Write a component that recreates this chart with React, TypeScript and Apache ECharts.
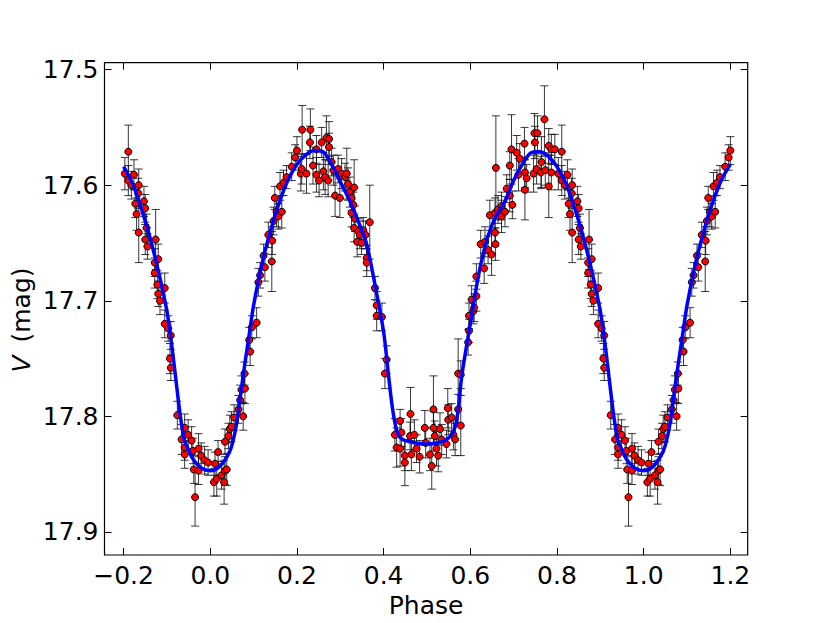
import React, { useEffect, useRef } from "react";
import * as echarts from "echarts";

// Observed phase (0..1), V magnitude, error
const obsPhase = [
  0.0085, 0.011, 0.015, 0.018, 0.026, 0.032, 0.034, 0.034, 0.038, 0.042, 0.045, 0.049, 0.055, 0.065, 0.069, 0.072, 0.076, 0.079, 0.080, 0.090,
  0.092, 0.096, 0.107, 0.111, 0.115, 0.123, 0.126, 0.134, 0.142, 0.143, 0.146, 0.149, 0.153, 0.157, 0.161, 0.165, 0.169, 0.176, 0.188, 0.196,
  0.200, 0.209, 0.211, 0.212, 0.222, 0.230, 0.231, 0.237,
  0.245, 0.245, 0.251, 0.257, 0.261, 0.265, 0.268, 0.272, 0.274, 0.274, 0.280, 0.284, 0.288, 0.295, 0.299, 0.303, 0.311, 0.315, 0.318, 0.322,
  0.326, 0.326, 0.330, 0.332, 0.332, 0.334, 0.339, 0.342, 0.345, 0.349, 0.353, 0.358, 0.361, 0.361, 0.368, 0.380, 0.384, 0.384, 0.396, 0.403,
  0.407, 0.426, 0.430, 0.438, 0.438, 0.441, 0.449, 0.449, 0.461, 0.462, 0.464, 0.471, 0.476, 0.483, 0.495, 0.497, 0.507, 0.511, 0.515, 0.515,
  0.518, 0.522, 0.526, 0.530, 0.534,
  0.545, 0.548, 0.549, 0.557, 0.561, 0.565, 0.572, 0.572, 0.578, 0.578, 0.595, 0.597, 0.597, 0.603, 0.607, 0.609, 0.614, 0.614, 0.624, 0.632,
  0.634, 0.641, 0.645, 0.649, 0.657, 0.657, 0.658, 0.659, 0.664, 0.672, 0.672, 0.680, 0.684, 0.691, 0.691, 0.695, 0.697, 0.707, 0.711, 0.714,
  0.725, 0.726, 0.726, 0.730, 0.746, 0.748, 0.749, 0.753, 0.755, 0.763, 0.764, 0.771, 0.773, 0.781, 0.781, 0.787, 0.787,
  0.795, 0.803, 0.811, 0.811, 0.818, 0.824, 0.827, 0.830, 0.834, 0.835, 0.835, 0.847, 0.850, 0.850, 0.853, 0.855, 0.872, 0.872, 0.874, 0.878,
  0.880, 0.880, 0.884, 0.895, 0.895, 0.903, 0.907, 0.909, 0.909, 0.924, 0.934, 0.941, 0.941, 0.941, 0.949, 0.957, 0.960, 0.962, 0.965, 0.973,
  0.973, 0.979, 0.987, 0.995,
];
const obsMag = [
  17.857, 17.841, 17.854, 17.831, 17.851, 17.857, 17.847, 17.822, 17.846, 17.817, 17.811, 17.809, 17.801, 17.794, 17.786, 17.777, 17.800, 17.763, 17.776, 17.734,
  17.744, 17.723, 17.719, 17.684, 17.678, 17.661, 17.671, 17.643, 17.666, 17.648, 17.631, 17.611, 17.623, 17.627, 17.601, 17.623, 17.598, 17.593, 17.584, 17.576,
  17.570, 17.590, 17.586, 17.552, 17.590, 17.563, 17.552, 17.583,
  17.569, 17.591, 17.596, 17.563, 17.588, 17.593, 17.559, 17.596, 17.560, 17.567, 17.580, 17.587, 17.609, 17.586, 17.611, 17.590, 17.593, 17.590, 17.599, 17.606,
  17.611, 17.624, 17.617, 17.602, 17.637, 17.629, 17.649, 17.640, 17.643, 17.650, 17.639, 17.643, 17.663, 17.667, 17.632, 17.689, 17.704, 17.713, 17.714, 17.763,
  17.751, 17.816, 17.827, 17.804, 17.828, 17.814, 17.834, 17.840, 17.817, 17.798, 17.833, 17.816, 17.828, 17.835, 17.810, 17.823, 17.833, 17.843, 17.794, 17.810,
  17.817, 17.828, 17.834, 17.811, 17.820,
  17.824, 17.793, 17.803, 17.801, 17.816, 17.820, 17.794, 17.763, 17.764, 17.808, 17.736, 17.726, 17.713, 17.699, 17.709, 17.706, 17.696, 17.679, 17.651, 17.672,
  17.649, 17.656, 17.626, 17.660, 17.641, 17.624, 17.651, 17.585, 17.621, 17.627, 17.618, 17.623, 17.603, 17.609, 17.583, 17.569, 17.617, 17.572, 17.591, 17.577,
  17.564, 17.589, 17.604, 17.594, 17.590, 17.555, 17.563, 17.586, 17.555, 17.589, 17.580, 17.543, 17.587, 17.566, 17.601, 17.569, 17.589,
  17.569, 17.590, 17.571, 17.596, 17.600, 17.591, 17.616, 17.625, 17.607, 17.600, 17.641, 17.614, 17.620, 17.647, 17.637, 17.653, 17.667, 17.676, 17.647, 17.686,
  17.664, 17.694, 17.700, 17.689, 17.720, 17.724, 17.750, 17.730, 17.758, 17.799, 17.820, 17.810, 17.827, 17.833, 17.816, 17.821, 17.830, 17.846, 17.870, 17.828,
  17.847, 17.834, 17.838, 17.840,
];
const obsErr = [
  0.012, 0.010, 0.015, 0.010, 0.012, 0.019, 0.012, 0.011, 0.014, 0.011, 0.012, 0.013, 0.011, 0.012, 0.013, 0.012, 0.012, 0.010, 0.013, 0.011,
  0.012, 0.010, 0.013, 0.012, 0.011, 0.010, 0.012, 0.011, 0.026, 0.012, 0.012, 0.010, 0.013, 0.011, 0.012, 0.014, 0.011, 0.010, 0.012, 0.011,
  0.012, 0.015, 0.013, 0.021, 0.017, 0.014, 0.018, 0.016,
  0.012, 0.015, 0.014, 0.013, 0.016, 0.015, 0.019, 0.014, 0.015, 0.012, 0.012, 0.013, 0.018, 0.012, 0.017, 0.013, 0.012, 0.022, 0.014, 0.013,
  0.011, 0.012, 0.011, 0.024, 0.012, 0.011, 0.013, 0.011, 0.012, 0.010, 0.011, 0.012, 0.011, 0.012, 0.032, 0.010, 0.012, 0.013, 0.012, 0.013,
  0.012, 0.014, 0.017, 0.010, 0.015, 0.012, 0.013, 0.020, 0.012, 0.023, 0.014, 0.013, 0.012, 0.014, 0.015, 0.013, 0.014, 0.020, 0.029, 0.014,
  0.013, 0.015, 0.014, 0.014, 0.013,
  0.012, 0.017, 0.013, 0.012, 0.013, 0.014, 0.013, 0.030, 0.012, 0.026, 0.011, 0.010, 0.011, 0.012, 0.011, 0.012, 0.013, 0.011, 0.012, 0.013,
  0.013, 0.012, 0.013, 0.018, 0.012, 0.013, 0.014, 0.045, 0.012, 0.014, 0.012, 0.013, 0.012, 0.014, 0.012, 0.030, 0.012, 0.015, 0.014, 0.013,
  0.014, 0.013, 0.026, 0.012, 0.016, 0.017, 0.014, 0.013, 0.015, 0.014, 0.022, 0.029, 0.013, 0.015, 0.027, 0.013, 0.015,
  0.013, 0.014, 0.023, 0.013, 0.012, 0.013, 0.012, 0.014, 0.013, 0.014, 0.026, 0.013, 0.012, 0.013, 0.012, 0.011, 0.012, 0.013, 0.026, 0.012,
  0.013, 0.011, 0.012, 0.013, 0.012, 0.011, 0.013, 0.012, 0.011, 0.012, 0.013, 0.012, 0.011, 0.012, 0.013, 0.012, 0.011, 0.012, 0.025, 0.013,
  0.012, 0.011, 0.012, 0.011,
];

// Model light curve (phase 0..1)
const modelPhase = [
  0.00, 0.02, 0.04, 0.05, 0.06, 0.07, 0.08, 0.09, 0.10, 0.12, 0.14, 0.16, 0.18, 0.20, 0.22, 0.24, 0.26, 0.28, 0.30, 0.32,
  0.34, 0.36, 0.38, 0.40, 0.41, 0.42, 0.43, 0.44, 0.46, 0.50, 0.54, 0.56, 0.57, 0.58, 0.59, 0.60, 0.62, 0.64, 0.66, 0.68,
  0.70, 0.72, 0.74, 0.76, 0.78, 0.80, 0.82, 0.84, 0.86, 0.88, 0.90, 0.91, 0.92, 0.93, 0.94, 0.95, 0.96, 0.98,
];
const modelMag = [
  17.847, 17.844, 17.834, 17.825, 17.808, 17.781, 17.754, 17.729, 17.704, 17.667, 17.638, 17.614, 17.595, 17.582, 17.574, 17.570, 17.571, 17.582, 17.597, 17.612,
  17.630, 17.650, 17.686, 17.727, 17.760, 17.792, 17.812, 17.819, 17.822, 17.824, 17.821, 17.814, 17.800, 17.766, 17.742, 17.720, 17.676, 17.645, 17.626, 17.614,
  17.596, 17.582, 17.572, 17.571, 17.575, 17.584, 17.598, 17.619, 17.644, 17.674, 17.709, 17.735, 17.766, 17.797, 17.820, 17.829, 17.837, 17.845,
];

const xTicks = [-0.2, 0.0, 0.2, 0.4, 0.6, 0.8, 1.0, 1.2];
const yTicks = [17.5, 17.6, 17.7, 17.8, 17.9];

const X_MIN = -0.244;
const X_MAX = 1.24;
const Y_MIN = 17.494;
const Y_MAX = 17.92;

function unfold(phases: number[], ...cols: number[][]) {
  const rows: number[][] = [];
  phases.forEach((p, i) => {
    const rest = cols.map((c) => c[i]);
    rows.push([p, ...rest]);
    if (p >= 0.8) rows.push([p - 1, ...rest]);
    if (p <= 0.2) rows.push([p + 1, ...rest]);
  });
  return rows;
}

export default function App() {
  const ref = useRef<HTMLDivElement>(null);
  useEffect(() => {
    if (!ref.current) return;
    const chart = echarts.init(ref.current, undefined, { renderer: "svg" });
    const pts = unfold(obsPhase, obsMag, obsErr);
    const model = unfold(modelPhase, modelMag).sort((a, b) => a[0] - b[0]);
    const font = "DejaVu Sans";
    const tickStyle = { color: "#000", width: 1 };
    const noLine = { show: false, onZero: false };
    const xLbl = (v: number) => (v < 0 ? "\u2212" : "") + Math.abs(v).toFixed(1);

    chart.setOption({
      animation: false,
      backgroundColor: "#fff",
      grid: {
        left: 104.5,
        top: 62.7,
        right: 82.3,
        bottom: 63,
        show: true,
        borderColor: "#000",
        borderWidth: 1.2,
        backgroundColor: "transparent",
      },
      xAxis: [
        {
          type: "value",
          min: X_MIN,
          max: X_MAX,
          position: "bottom",
          axisLine: noLine,
          splitLine: { show: false },
          axisTick: { show: true, inside: true, length: 7, customValues: xTicks, lineStyle: tickStyle },
          axisLabel: {
            show: true,
            customValues: xTicks,
            formatter: xLbl,
            fontSize: 25,
            fontFamily: font,
            color: "#000",
            margin: 8,
          },
          name: "Phase",
          nameLocation: "middle",
          nameGap: 38,
          nameTextStyle: { fontSize: 25, fontFamily: font, color: "#000" },
        },
        {
          type: "value",
          min: X_MIN,
          max: X_MAX,
          position: "top",
          axisLine: noLine,
          splitLine: { show: false },
          axisTick: { show: true, inside: true, length: 7, customValues: xTicks, lineStyle: tickStyle },
          axisLabel: { show: false },
        },
      ],
      yAxis: [
        {
          type: "value",
          inverse: true,
          min: Y_MIN,
          max: Y_MAX,
          position: "left",
          axisLine: noLine,
          splitLine: { show: false },
          axisTick: { show: true, inside: true, length: 7, customValues: yTicks, lineStyle: tickStyle },
          axisLabel: {
            show: true,
            customValues: yTicks,
            formatter: (v: number) => v.toFixed(1),
            fontSize: 25,
            fontFamily: font,
            color: "#000",
            margin: 6,
          },
        },
        {
          type: "value",
          inverse: true,
          min: Y_MIN,
          max: Y_MAX,
          position: "right",
          axisLine: noLine,
          splitLine: { show: false },
          axisTick: { show: true, inside: true, length: 7, customValues: yTicks, lineStyle: tickStyle },
          axisLabel: { show: false },
        },
      ],
      graphic: [
        {
          type: "text",
          x: 21,
          y: 320,
          rotation: Math.PI / 2,
          style: {
            text: "{i|V} (mag)",
            fontSize: 25,
            fontFamily: font,
            fill: "#000",
            align: "center",
            verticalAlign: "middle",
            rich: {
              i: { fontSize: 25, fontFamily: font, fontStyle: "italic", fill: "#000", padding: [0, 5, 0, 0] },
            },
          },
        },
      ],
      series: [
        {
          type: "custom",
          xAxisIndex: 0,
          yAxisIndex: 0,
          z: 1,
          silent: true,
          encode: { x: 0, y: 1 },
          data: pts,
          renderItem: (params: any, api: any) => {
            const x = api.value(0);
            const y = api.value(1);
            const e = api.value(2);
            const t = api.coord([x, y - e]);
            const b = api.coord([x, y + e]);
            const hw = 4;
            const st = { stroke: "rgba(0,0,0,0.78)", lineWidth: 1 };
            return {
              type: "group",
              children: [
                { type: "line", shape: { x1: t[0], y1: t[1], x2: b[0], y2: b[1] }, style: st },
                { type: "line", shape: { x1: t[0] - hw, y1: t[1], x2: t[0] + hw, y2: t[1] }, style: st },
                { type: "line", shape: { x1: b[0] - hw, y1: b[1], x2: b[0] + hw, y2: b[1] }, style: st },
              ],
            };
          },
        },
        {
          type: "scatter",
          xAxisIndex: 0,
          yAxisIndex: 0,
          z: 2,
          symbol: "circle",
          symbolSize: 7,
          itemStyle: { color: "#ff0000", borderColor: "#000", borderWidth: 1, opacity: 1 },
          data: pts.map((r) => [r[0], r[1]]),
        },
        {
          type: "line",
          xAxisIndex: 0,
          yAxisIndex: 0,
          z: 3,
          showSymbol: false,
          symbol: "none",
          smooth: 0.3,
          lineStyle: { color: "#0000ff", width: 3.5 },
          data: model,
        },
      ],
    });
    return () => chart.dispose();
  }, []);
  return <div ref={ref} style={{ position: "fixed", left: 0, top: 0, width: 830, height: 623 }} />;
}
